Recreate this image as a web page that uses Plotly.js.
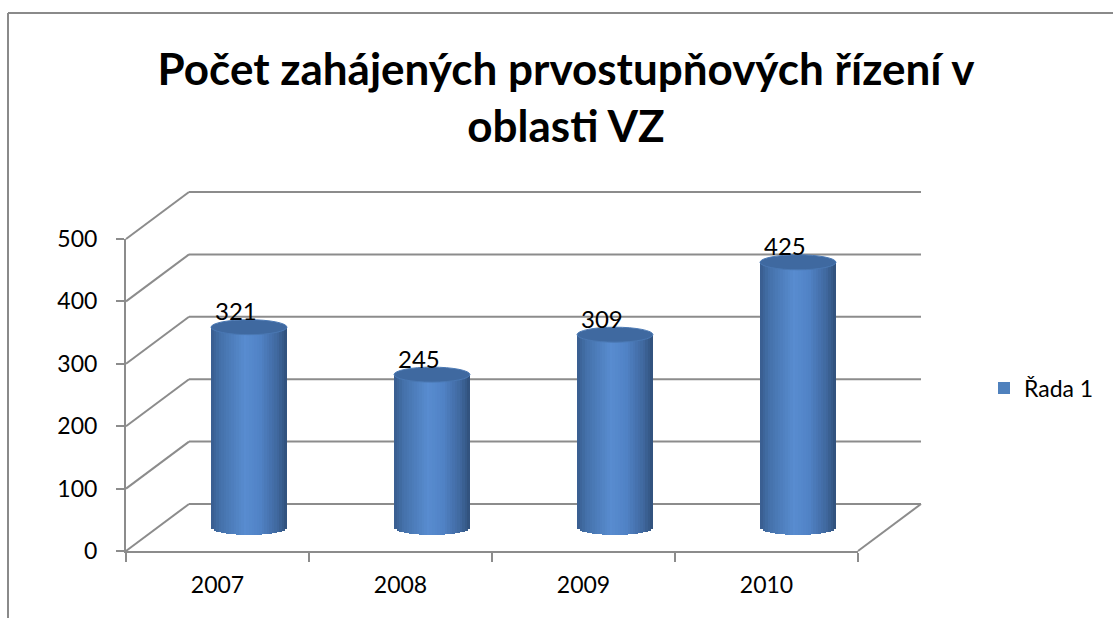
<!DOCTYPE html>
<html><head><meta charset="utf-8">
<script src="https://cdn.plot.ly/plotly-3.0.1.min.js"></script>
<style>html,body{margin:0;padding:0;background:#fff}#chart{width:1113px;height:618px}</style>
</head><body><div id="chart"></div>
<script>
// ---- data ----
const categories = ["2007", "2008", "2009", "2010"];
const values = [321, 245, 309, 425];
const seriesName = "Řada 1";
const yTickVals = [0, 100, 200, 300, 400, 500];
const titleLine1 = "Počet zahájených prvostupňových řízení v";
const titleLine2 = "oblasti VZ";

// ---- layout geometry (pixels) ----
const W = 1113, H = 618;
const L = 126, R = 921, T = 192, B = 551;
const depthX = 63, depthY = 47;
const pw = R - L, ph = B - T;
const yMax = yTickVals[yTickVals.length - 1];
const ppu = (ph - depthY) / yMax; // px per unit
const px2x = p => (p - L) / pw;
const py2y = p => (B - p) / ph;
const frontY = v => (v / yMax) * (ph - depthY) / ph;
const backY = v => depthY / ph + frontY(v);
const gridColor = "#8c8c8c";
const FONT = "Lato, 'Open Sans', sans-serif";

// ---- cylinder bands ----
const barW = 0.415;
const N = 30;
const halfH = 12; // ellipse half-height in y units
const pad = 30;   // extra y range below 0 / above max for the bar subplot
const stops = [[0, [56, 92, 142]], [0.12, [68, 113, 170]], [0.45, [88, 140, 208]], [0.65, [80, 130, 197]], [0.88, [63, 103, 157]], [1, [48, 80, 122]]];
function grad(t) {
  for (let i = 0; i < stops.length - 1; i++) {
    const [t0, c0] = stops[i], [t1, c1] = stops[i + 1];
    if (t >= t0 && t <= t1) {
      const f = (t - t0) / (t1 - t0);
      return "rgb(" + c0.map((c, j) => Math.round(c + (c1[j] - c) * f)).join(",") + ")";
    }
  }
  return "rgb(48,80,122)";
}

const traces = [];
// invisible trace so the front axes are drawn
traces.push({
  type: "scatter", mode: "markers", x: categories, y: values, xaxis: "x", yaxis: "y",
  marker: { size: 1, opacity: 0 }, showlegend: false, hoverinfo: "skip"
});
traces.push({
  type: "bar", x: categories, y: values, name: seriesName, xaxis: "x2", yaxis: "y2",
  width: barW, marker: { color: "#4f81bd", line: { width: 0 } }, showlegend: true,
  hovertemplate: "%{x}: %{y}<extra></extra>"
});
for (let k = 0; k < N; k++) {
  const t = (k + 0.5) / N;
  const u = 2 * t - 1;
  const ext = halfH * Math.sqrt(Math.max(0, 1 - u * u));
  traces.push({
    type: "bar", x: categories, y: values.map(v => v + ext), base: values.map(() => -ext),
    xaxis: "x2", yaxis: "y2", width: barW / N * 1.08, offset: -barW / 2 + k * barW / N,
    marker: { color: grad(t), line: { width: 0 } }, showlegend: false, hoverinfo: "skip"
  });
}

// ---- shapes ----
const shapes = [];
yTickVals.forEach(v => {
  shapes.push({ type: "line", xref: "paper", yref: "paper", x0: depthX / pw, x1: 1, y0: backY(v), y1: backY(v), line: { color: gridColor, width: 2 }, layer: "below" });
  shapes.push({ type: "line", xref: "paper", yref: "paper", x0: 0, x1: depthX / pw, y0: frontY(v), y1: backY(v), line: { color: gridColor, width: 2 }, layer: "below" });
});
shapes.push({ type: "line", xref: "paper", yref: "paper", x0: (pw - depthX) / pw, y0: 0, x1: 1, y1: depthY / ph, line: { color: gridColor, width: 2 }, layer: "below" });
// top ellipses
values.forEach((v, i) => {
  shapes.push({ type: "circle", xref: "x2", yref: "y2", x0: i - barW / 2, x1: i + barW / 2, y0: v - halfH, y1: v + halfH,
    fillcolor: "#3f69a0", line: { color: "#4a78b3", width: 1 }, layer: "above" });
});
// chart border
shapes.push({ type: "line", xref: "paper", yref: "paper", x0: px2x(8), x1: px2x(W + 5), y0: py2y(13), y1: py2y(13), line: { color: "#8a8a8a", width: 2 } });
shapes.push({ type: "line", xref: "paper", yref: "paper", x0: px2x(8), x1: px2x(8), y0: py2y(13), y1: py2y(H + 5), line: { color: "#8a8a8a", width: 2 } });

// ---- labels ----
const annotations = values.map((v, i) => ({
  xref: "x2", yref: "y2", x: i, y: v, text: String(v), showarrow: false,
  xanchor: "center", yanchor: "bottom", xshift: -13, yshift: 0,
  font: { family: FONT, size: 24, color: "#000" }
}));

const layout = {
  width: W, height: H,
  margin: { l: L, r: W - R, t: T, b: H - B, pad: 0 },
  paper_bgcolor: "#fff", plot_bgcolor: "rgba(0,0,0,0)",
  font: { family: FONT, size: 23, color: "#000" },
  title: {
    text: titleLine1 + "<br>" + titleLine2,
    font: { family: FONT, size: 44, color: "#000", weight: "bold" },
    xref: "container", yref: "container", x: 566 / W, xanchor: "center", y: 1 - 85 / H, yanchor: "top"
  },
  barmode: "overlay", bargap: 0,
  showlegend: true,
  legend: { x: px2x(984), xanchor: "left", y: py2y(388), yanchor: "middle", font: { family: FONT, size: 23, color: "#000" }, bgcolor: "rgba(0,0,0,0)" },
  xaxis: {
    domain: [0, (pw - depthX) / pw], anchor: "y", type: "category", range: [-0.5, categories.length - 0.5],
    showline: true, linecolor: gridColor, linewidth: 2, ticks: "outside", tickson: "boundaries", ticklen: 9, tickwidth: 2, tickcolor: gridColor,
    showgrid: false, zeroline: false, fixedrange: true, ticklabelstandoff: 12
  },
  yaxis: {
    domain: [0, (ph - depthY) / ph], anchor: "x", range: [0, yMax], tickvals: yTickVals,
    showline: true, linecolor: gridColor, linewidth: 2, ticks: "outside", ticklen: 8, tickwidth: 2, tickcolor: gridColor,
    showgrid: false, zeroline: false, fixedrange: true, ticklabelstandoff: 14
  },
  xaxis2: { domain: [depthX / 2 / pw, (pw - depthX / 2) / pw], anchor: "y2", type: "category", range: [-0.5, categories.length - 0.5], visible: false, fixedrange: true },
  yaxis2: { domain: [(depthY / 2 - pad * ppu) / ph, (ph - depthY / 2 + pad * ppu) / ph], anchor: "x2", range: [-pad, yMax + pad], visible: false, fixedrange: true },
  shapes: shapes, annotations: annotations
};

Plotly.newPlot("chart", traces, layout, { displayModeBar: false, staticPlot: true });
</script>
</body></html>
